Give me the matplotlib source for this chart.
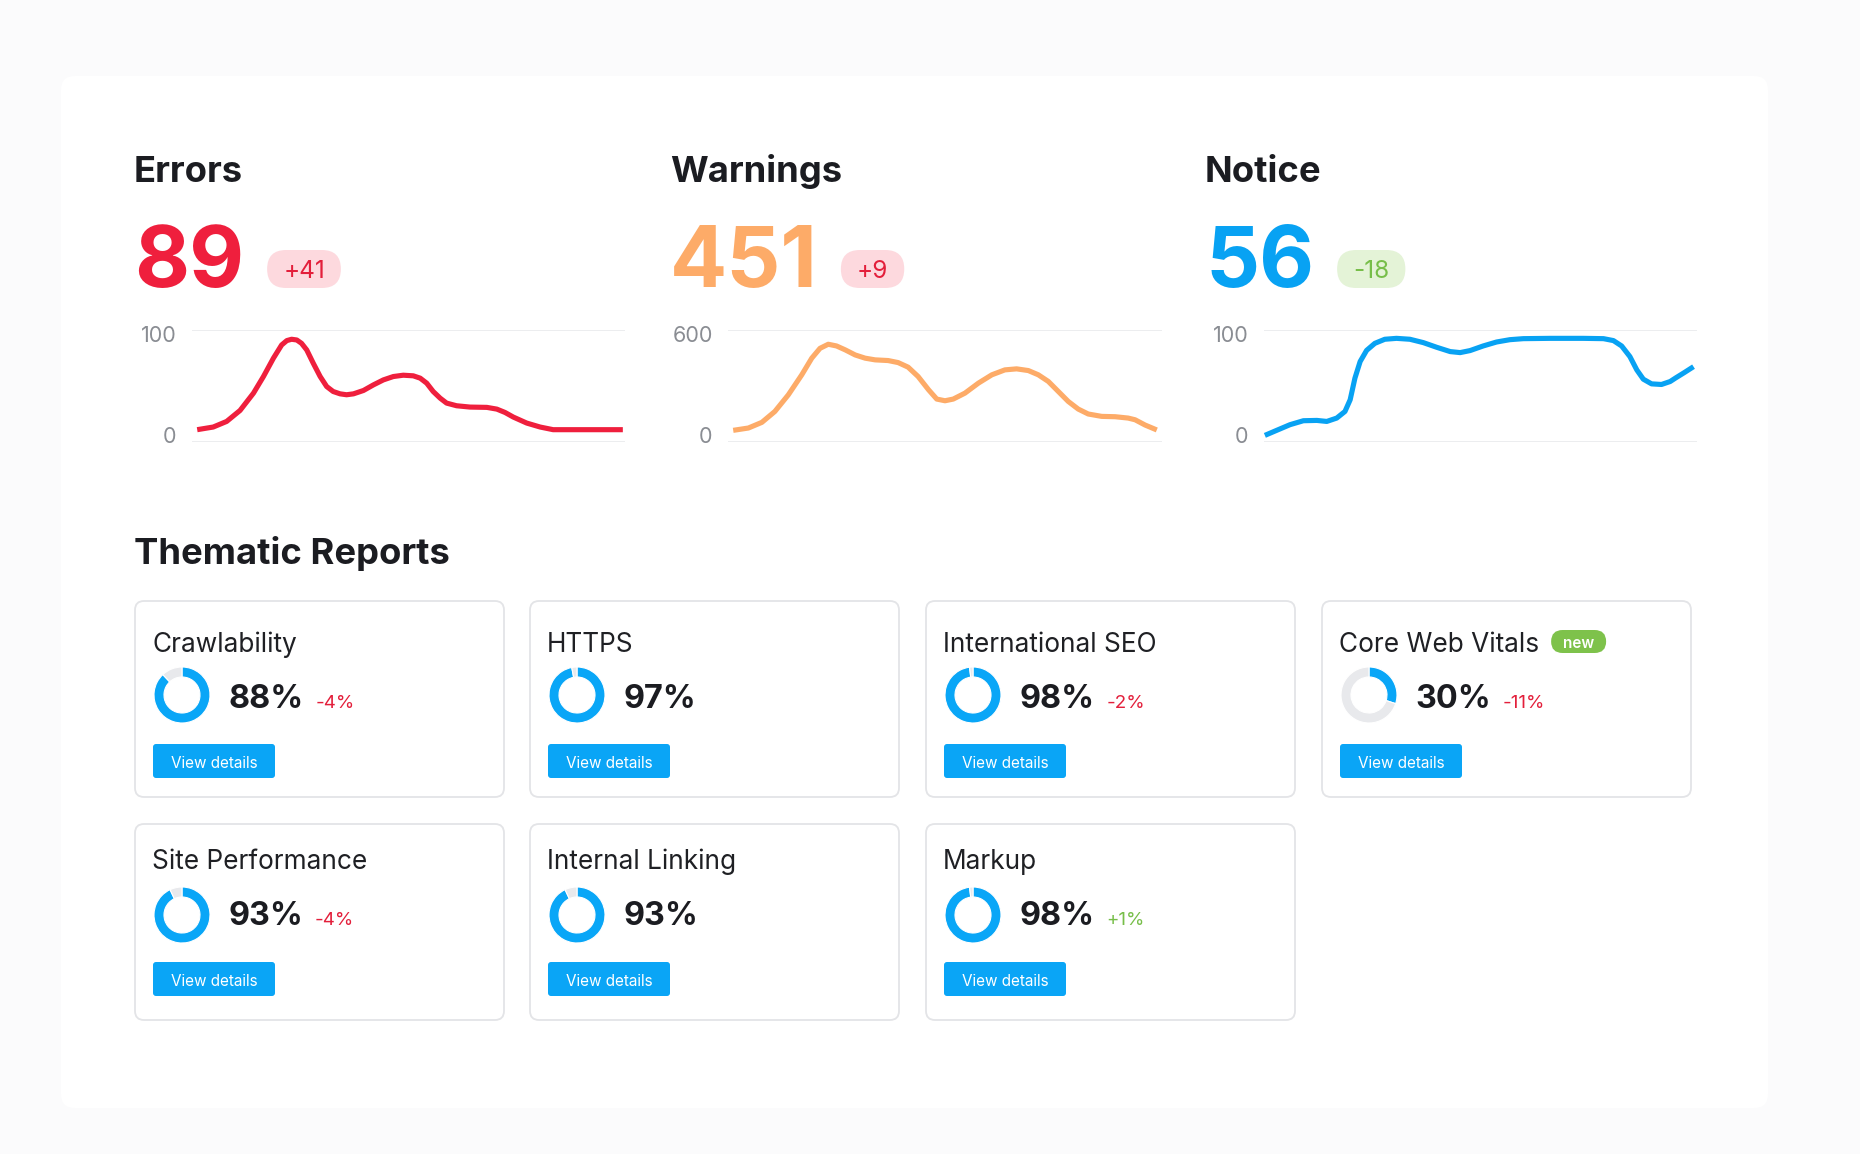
import matplotlib
matplotlib.use("Agg")
import matplotlib.pyplot as plt
import matplotlib.transforms as mtransforms
from matplotlib.patches import FancyBboxPatch

# ---------------- data ----------------
summary_names = ["Errors", "Warnings", "Notice"]
summary_totals = ["89", "451", "56"]
summary_deltas = ["+41", "+9", "-18"]
summary_ymax = [100, 600, 100]

errors_x = [1.2, 4.9, 8.0, 11.1, 14.2, 16.5, 18.8, 20.7, 21.9, 23.0, 24.2, 25.3, 26.5,
            28.0, 29.6, 31.1, 32.6, 34.2, 35.7, 37.3, 39.6, 41.9, 44.2, 46.5, 48.8,
            51.1, 52.7, 54.2, 55.7, 57.3, 58.8, 61.1, 64.2, 68.1, 70.4, 72.3, 74.2,
            77.3, 80.4, 83.4, 99.5]
errors_y = [2.1, 4.7, 10.2, 21, 38, 54.3, 72.3, 85.3, 89.6, 90.9, 90.2, 86.9, 80.4,
            67.4, 54.3, 44.5, 39.6, 37.3, 36.4, 37.3, 40.6, 46.1, 51, 54.3, 55.6,
            55, 52.7, 47.8, 39.6, 33.1, 28.2, 25.6, 24.3, 24, 22.3, 19, 14.5,
            8.6, 4.7, 2.1, 2.1]

warnings_x = [1.2, 4.7, 7.8, 10.8, 13.9, 17.0, 19.3, 21.2, 23.1, 25.0, 27.0, 29.3, 31.6,
              33.9, 36.9, 39.2, 41.5, 43.8, 46.2, 48.1, 50.0, 51.9, 54.6, 57.7, 60.8,
              63.8, 66.5, 69.2, 71.5, 73.8, 76.1, 78.4, 80.7, 83.0, 86.1, 89.2, 92.2,
              93.8, 96.1, 98.8]
warnings_y = [8.7, 22.4, 55.7, 120, 218, 336, 434, 492, 516, 506, 483, 453, 434,
              424, 420, 408, 381, 326, 248, 193, 183, 193, 228, 287, 336,
              365, 371, 361, 336, 297, 238, 179, 134, 105, 91, 89, 81,
              71, 40, 11]

notice_x = [0.2, 2.9, 6.0, 9.1, 12.2, 14.5, 16.8, 18.7, 19.9, 21.0, 22.2, 23.7, 25.6,
            27.9, 30.6, 33.7, 36.8, 39.9, 43.0, 45.3, 47.6, 50.6, 53.7, 56.8, 59.9,
            66.1, 73.7, 78.4, 80.7, 82.6, 84.5, 86.1, 87.6, 89.5, 91.8, 93.8, 95.1,
            97.0, 99.2]
notice_y = [-3.5, 1.4, 7.0, 10.9, 11.2, 10.2, 13.5, 20, 31.5, 52.7, 69, 80, 86.9,
            90.9, 91.8, 90.9, 87.6, 83, 78.8, 77.8, 79.8, 84.3, 88.2, 90.5, 91.5,
            91.8, 91.8, 91.5, 89.6, 84.3, 73.9, 60.8, 51.7, 47.1, 46.5, 49.4, 53,
            58, 64]

series_x = [errors_x, warnings_x, notice_x]
series_y = [errors_y, warnings_y, notice_y]

report_names = ["Crawlability", "HTTPS", "International SEO", "Core Web Vitals",
                "Site Performance", "Internal Linking", "Markup"]
report_scores = [88, 97, 98, 30, 93, 93, 98]
report_changes = ["-4%", "", "-2%", "-11%", "-4%", "", "+1%"]
report_new = [False, False, False, True, False, False, False]

# ---------------- style ----------------
W, H = 1860, 1154
FONT = ["Inter", "DejaVu Sans"]
plt.rcParams["font.family"] = FONT

DARK = "#1b1c21"
RED = "#ef1f3d"
ORANGE = "#fdab68"
BLUE = "#08a2f3"
DONUT_BLUE = "#09a6f7"
DONUT_GREY = "#e8e9ec"
PINK_BG = "#fdd9de"
RED_TXT = "#e31f3b"
GREEN_BG = "#e4f3d7"
GREEN_TXT = "#77be49"
GRID = "#ebecee"
TICK = "#8a8d93"
line_colors = [RED, ORANGE, BLUE]

fig = plt.figure(figsize=(W / 100, H / 100), dpi=100)
fig.patch.set_facecolor("#fbfbfc")
bg = fig.add_axes([0, 0, 1, 1])
bg.set_xlim(0, W)
bg.set_ylim(H, 0)
bg.axis("off")


def px_axes(x0, y0, x1, y1):
    return fig.add_axes([x0 / W, 1 - y1 / H, (x1 - x0) / W, (y1 - y0) / H])


def rbox(x, y, w, h, r, fc, ec="none", lw=0, alpha=1.0, z=1):
    p = FancyBboxPatch((x, y), w, h, boxstyle=f"round,pad=0,rounding_size={r}",
                       fc=fc, ec=ec, lw=lw, alpha=alpha, zorder=z)
    bg.add_patch(p)
    return p


# soft shadow + main card
cx0, cy0, cx1, cy1 = 61, 76, 1768, 1108
for k in range(40, 0, -1):
    e = k * 2.0
    rbox(cx0 - e, cy0 - e + 10, (cx1 - cx0) + 2 * e, (cy1 - cy0) + 2 * e, 14 + e,
         fc="#3a4450", alpha=0.0016, z=0)
rbox(cx0, cy0, cx1 - cx0, cy1 - cy0, 14, fc="white", z=1)

renderer = fig.canvas.get_renderer()

# ---------------- summary blocks ----------------
title_x = [134, 670, 1205]
grid_x0 = [192, 728, 1264]
grid_x1 = [625, 1162, 1697]
num_colors = [RED, ORANGE, BLUE]
label_shift = mtransforms.ScaledTranslation(0, -3.5 / 100, fig.dpi_scale_trans)

for i in range(3):
    bg.text(title_x[i], 182, summary_names[i], fontsize=26.2, fontweight="bold",
            color=DARK, va="baseline", ha="left", zorder=3)
    t = bg.text(title_x[i], 287, summary_totals[i], fontsize=61, fontweight="bold",
                color=num_colors[i], va="baseline", ha="left", zorder=3)
    ext = t.get_window_extent(renderer)
    d = summary_deltas[i]
    good = d.startswith("-")
    tb = bg.text(0, 0, d, fontsize=17.5, color=GREEN_TXT if good else RED_TXT)
    tw = tb.get_window_extent(renderer).width
    tb.remove()
    bx0 = ext.x1 + 23
    bw = tw + 32
    rbox(bx0, 250, bw, 38, 19, fc=GREEN_BG if good else PINK_BG, z=2)
    bg.text(bx0 + bw / 2, 269.5, d, fontsize=17.5, color=GREEN_TXT if good else RED_TXT,
            ha="center", va="center_baseline", zorder=3)

    ymax = summary_ymax[i]
    ax = px_axes(grid_x0[i], 330, grid_x1[i], 442)
    ax.patch.set_alpha(0)
    ax.plot(series_x[i], series_y[i], color=line_colors[i], lw=3.7,
            solid_capstyle="butt", solid_joinstyle="round", clip_on=False, zorder=3)
    ax.set_xlim(0, 100)
    ax.set_ylim(-0.1 * ymax, ymax)
    ax.axhline(ymax, color=GRID, lw=1.3, zorder=1)
    ax.axhline(-0.1 * ymax, color=GRID, lw=1.3, zorder=1)
    ax.set_xticks([])
    ax.set_yticks([0, ymax])
    ax.set_yticklabels(["0", str(ymax)])
    ax.tick_params(axis="y", length=0, pad=11, labelsize=15.5, labelcolor=TICK)
    for lbl in ax.get_yticklabels():
        lbl.set_transform(lbl.get_transform() + label_shift)
    for s in ax.spines.values():
        s.set_visible(False)

# ---------------- thematic reports ----------------
bg.text(134, 564, "Thematic Reports", fontsize=26.2, fontweight="bold", color=DARK,
        va="baseline", ha="left", zorder=3)

col_x = [135, 530, 926, 1322]
row_top = [601, 824]
row_title = [652, 869]
row_donut = [695, 915]
row_pct = [708, 925]
row_btn = [744, 962]
card_w, card_h = 369, 196

for j, name in enumerate(report_names):
    r, c = divmod(j, 4)
    x0 = col_x[c]
    rbox(x0, row_top[r], card_w, card_h, 9, fc="white", ec="#e3e4e7", lw=1.3, z=2)
    tt = bg.text(x0 + 17, row_title[r], name, fontsize=18.9, color="#1f2024",
                 va="baseline", ha="left", zorder=3)
    if report_new[j]:
        te = tt.get_window_extent(renderer)
        nx0 = te.x1 + 12
        rbox(nx0, row_title[r] - 22, 55, 23, 11.5, fc="#7ec24b", z=3)
        bg.text(nx0 + 27.5, row_title[r] - 10.5, "new", fontsize=11, fontweight="semibold",
                color="white", ha="center", va="center_baseline", zorder=4)

    # donut
    dcx, dcy = x0 + 47, row_donut[r]
    dax = px_axes(dcx - 31, dcy - 31, dcx + 31, dcy + 31)
    dax.pie([report_scores[j], 100 - report_scores[j]], colors=[DONUT_BLUE, DONUT_GREY],
            startangle=90, counterclock=False, radius=28 / 31,
            wedgeprops=dict(width=10 / 31, edgecolor="white", linewidth=0.8))
    dax.set_xlim(-1, 1)
    dax.set_ylim(-1, 1)
    dax.set_aspect("equal")
    dax.axis("off")

    pt = bg.text(x0 + 93, row_pct[r], f"{report_scores[j]}%", fontsize=23.3,
                 fontweight="bold", color=DARK, va="baseline", ha="left", zorder=3)
    ch = report_changes[j]
    if ch:
        pe = pt.get_window_extent(renderer)
        bg.text(pe.x1 + 12, row_pct[r], ch, fontsize=13.5,
                color=GREEN_TXT if ch.startswith("+") else RED_TXT,
                va="baseline", ha="left", zorder=3)

    rbox(x0 + 18, row_btn[r], 122, 34, 3, fc="#0aa5f6", z=3)
    bg.text(x0 + 18 + 61, row_btn[r] + 17.5, "View details", fontsize=11,
            color="white", ha="center", va="center_baseline", zorder=4)

fig.savefig("out.png", dpi=100, facecolor=fig.get_facecolor())
